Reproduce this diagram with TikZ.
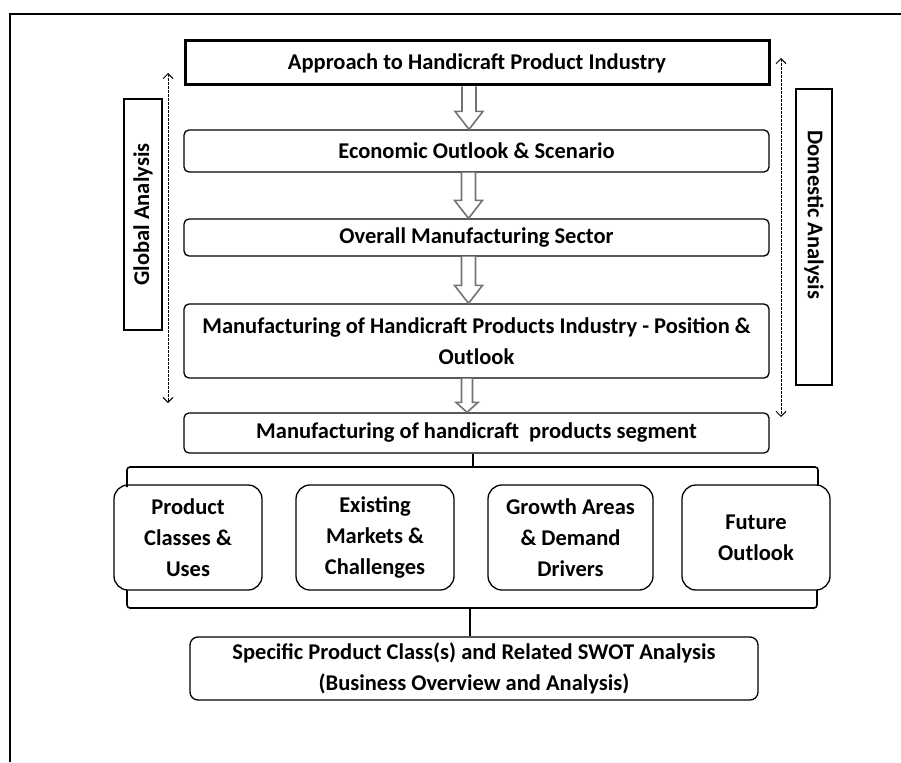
\documentclass[tikz,border=0pt]{standalone}
\usepackage{fontspec}
\setmainfont{Carlito}
\usetikzlibrary{calc, arrows.meta}

% hollow block arrow from the bottom of one box to the top of the next
\newcommand{\blockarrow}[5]{%
	\draw [hollow] let \p1 = (#1.south), \p2 = (#2.north) in
		(\x1+#3-#4,\y1) -- (\x1+#3-#4,\y2+#5) -- (\x1+#3-2*#4,\y2+#5)
		-- (\x1+#3,\y2) -- (\x1+#3+2*#4,\y2+#5) -- (\x1+#3+#4,\y2+#5)
		-- (\x1+#3+#4,\y1);
}

\begin{document}
\begin{tikzpicture}[x=1pt, y=-1pt,
	every node/.style={font=\bfseries\fontsize{22.5}{31}\selectfont, align=center},
	box/.style={draw, line width=1.3pt, rounded corners=5pt, minimum width=585pt},
	mainbox/.style={draw, line width=3pt, minimum width=584pt, minimum height=44pt},
	sidebox/.style={draw, line width=1.3pt, inner sep=0pt},
	topicbox/.style={draw, line width=1.3pt, rounded corners=14pt, minimum height=105pt},
	hollow/.style={draw=black!55, line width=1.6pt, fill=white, line join=miter},
	bracket/.style={line width=1.6pt, rounded corners=3pt},
	flow/.style={dash pattern=on 2.5pt off 1.5pt, line width=0.9pt, {Straight Barb[length=5pt]}-{Straight Barb[length=5pt]}}]
	\def\W{901};
	\def\H{762};

	\useasboundingbox (0,0) rectangle (\W,\H);
	\draw [line width=1.8pt] (\W,14) -- (10,14) -- (10,\H);

	% main column
	\node [mainbox] (approach) at (477,63) {Approach to Handicraft Product Industry};
	\node [box, minimum height=42pt] (outlook) at (476.5,151) {Economic Outlook \& Scenario};
	\node [box, minimum height=37pt] (sector) at (476.5,237.5) {Overall Manufacturing Sector};
	\node [box, minimum height=74pt, inner xsep=1pt] (position) at (476.5,341)
		{Manufacturing of Handicraft Products Industry - Position \&\\Outlook};
	\node [box, minimum height=40pt] (segment) at (476.5,433) {Manufacturing of handicraft \ products segment};

	\blockarrow{approach}{outlook}{-8pt}{7pt}{18pt}
	\blockarrow{outlook}{sector}{-8pt}{7pt}{18pt}
	\blockarrow{sector}{position}{-8pt}{7pt}{18pt}
	\blockarrow{position}{segment}{-9.5pt}{5.5pt}{10pt}

	% side labels
	\node [sidebox, minimum width=38pt, minimum height=231pt] (global) at (143,214.5)
		{\rotatebox{90}{Global Analysis}};
	\node [sidebox, minimum width=36pt, minimum height=296pt] (domestic) at (814,237)
		{\rotatebox{-90}{Domestic Analysis\hspace*{44pt}}};
	\coordinate (gtop) at (168,73);
	\coordinate (gbot) at (168,403);
	\coordinate (dtop) at (781,58);
	\coordinate (dbot) at (781,417);
	\draw [flow] (gtop) -- (gbot);
	\draw [flow] (dtop) -- (dbot);

	% topics
	\node [topicbox, minimum width=148pt] (classes) at (188,537.5) {Product\\Classes \&\\Uses};
	\node [topicbox, minimum width=158pt] (markets) at (375,537.5) {Existing\\Markets \&\\Challenges};
	\node [topicbox, minimum width=165pt] (growth) at (570.5,537.5) {Growth Areas\\\& Demand\\Drivers};
	\node [topicbox, minimum width=148pt] (future) at (756,537.5) {Future\\Outlook};

	\node [box, rounded corners=8pt, minimum width=568pt, minimum height=63pt] (swot) at (474,668.5)
		{Specific Product Class(s) and Related SWOT Analysis\\(Business Overview and Analysis)};

	% brackets
	\coordinate (upper) at (473,467);
	\coordinate (lower) at (470,608);
	\draw [bracket] (127,487) -- (127,467) -- (818,467) -- (818,485);
	\draw [bracket] (segment.south -| upper) -- (upper);
	\draw [bracket] (127,590) -- (127,608) -- (817,608) -- (817,590);
	\draw [bracket] (lower) -- (swot.north -| lower);
\end{tikzpicture}
\end{document}
